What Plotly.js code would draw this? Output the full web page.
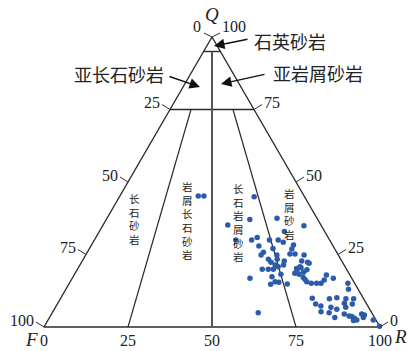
<!DOCTYPE html>
<html><head><meta charset="utf-8">
<script src="https://cdn.plot.ly/plotly-3.0.1.min.js"></script>
<style>html,body{margin:0;padding:0;background:#fff;overflow:hidden}</style>
</head><body><div id="chart" style="width:408px;height:351px"></div>
<script>
// ---- data: sample compositions in percent (Q = quartz, R = rock fragments, F = 100 - Q - R)
const sampleQ = [45.2,45.2,44.9,35.2,37.1,37.5,34.9,32.9,30.0,30.0,30.9,27.9,30.0,30.0,29.2,28.3,26.9,27.1,25.8,24.8,
  24.8,23.4,22.3,23.4,22.8,25.2,25.2,24.8,21.4,20.8,21.4,19.9,19.9,19.9,22.8,22.3,20.4,20.2,18.5,18.2,
  18.9,19.7,18.2,17.3,16.8,15.6,14.7,15.4,14.8,16.4,15.6,15.1,9.9,4.9,22.0,17.1,15.1,15.1,16.2,17.9,
  16.8,15.1,13.0,7.9,7.2,5.3,9.7,6.8,4.9,3.3,10.1,6.1,9.7,8.2,9.7,7.9,6.8,4.5,3.8,3.6,
  3.0,2.4,2.2,4.5,4.1,3.3,2.4,0.3,20.8,19.1];
const sampleR = [23.3,25.0,40.1,37.1,42.7,50.6,59.9,55.1,42.1,46.8,48.0,50.0,52.1,54.7,56.6,60.1,60.3,54.6,52.4,52.2,
  56.9,55.1,56.4,57.7,60.1,60.6,62.1,65.0,58.1,59.3,60.6,55.0,56.8,58.3,65.3,67.3,66.3,65.1,65.4,66.8,
  67.8,68.4,61.4,59.2,52.9,61.0,60.1,62.2,65.0,69.5,70.4,72.0,74.9,61.3,67.9,68.6,73.6,74.9,75.3,75.1,
  77.7,82.9,84.1,76.9,78.8,79.8,80.1,82.0,82.4,84.9,82.1,84.1,85.0,85.3,87.3,87.8,86.4,87.1,88.9,89.8,
  90.9,91.9,91.0,92.3,93.3,93.4,96.8,99.7,65.8,65.7];
// ---- classification boundaries
const quartzLimits = [95, 75];          // Q = 95 and Q = 75
const ratioLines = [25, 50, 75];        // R/(F+R) in percent
const tickValues = [0, 25, 50, 75, 100];
const vertexNames = ['Q', 'F', 'R'];
const fieldNames = ['石英砂岩', '亚长石砂岩', '亚岩屑砂岩', '长石砂岩', '岩屑长石砂岩', '长石岩屑砂岩', '岩屑砂岩'];

// ternary (Q,R) -> cartesian
const tx = (q, r) => r + q / 2;
const ty = (q, r) => q;
// pixel helpers for placing text (layout only)
const PX0 = 44, PXS = 3.36, PY0 = 327, PYS = 2.9;
const px = p => (p - PX0) / PXS, py = p => (PY0 - p) / PYS;

const dark = '#2b2b2b';
const traces = [];
// outline
traces.push({x:[tx(100,0),tx(0,0),tx(0,100),tx(100,0)], y:[ty(100,0),ty(0,0),ty(0,100),ty(100,0)],
  mode:'lines', line:{color:dark,width:1.4}, hoverinfo:'skip'});
// horizontal Q limits
const hx=[],hy=[];
quartzLimits.forEach(q=>{hx.push(tx(q,0),tx(q,100-q),null);hy.push(ty(q,0),ty(q,100-q),null);});
traces.push({x:hx,y:hy,mode:'lines',line:{color:dark,width:1.4},hoverinfo:'skip'});
// ratio lines
ratioLines.forEach(rt=>{
  const qTop = rt===50 ? quartzLimits[0] : quartzLimits[1];
  const q0=0, r0=rt, q1=qTop, r1=(100-qTop)*rt/100;
  traces.push({x:[tx(q0,r0),tx(q1,r1)],y:[ty(q0,r0),ty(q1,r1)],mode:'lines',
    line:{color: rt===50?'#555':dark, width: rt===50?2:1.2},hoverinfo:'skip'});
});
// samples
traces.push({x:sampleQ.map((q,i)=>tx(q,sampleR[i])), y:sampleQ.map((q,i)=>ty(q,sampleR[i])),
  mode:'markers', marker:{color:'#2d5bab',size:5.5}, hoverinfo:'skip'});

const numFont = {family:'Liberation Serif, serif', size:16, color:'#222'};
const ann=[], shapes=[];
function tick(x,y,dx,dy){shapes.push({type:'line',xref:'x',yref:'y',xsizemode:'pixel',ysizemode:'pixel',
  xanchor:x,yanchor:y,x0:0,y0:0,x1:dx,y1:dy,line:{color:dark,width:1}});}
function lab(text,x,y,xs,ys,xa,font){ann.push({text:String(text),x,y,xref:'x',yref:'y',xshift:xs,yshift:ys,
  xanchor:xa||'center',yanchor:'middle',showarrow:false,font:font||numFont});}
// left edge: F percentages
tickValues.forEach(f=>{
  const q=100-f, x=tx(q,0), y=ty(q,0);
  if(f===0){tick(x,y,-8,4);lab(f,x,y,-9,11,'right');}
  else {tick(x,y,-8,5);lab(f,x,y,-8,7,'right');}
});
// right edge: Q percentages
tickValues.forEach(q=>{
  const x=tx(q,100-q), y=ty(q,100-q);
  if(q===100){tick(x,y,8,4);lab(q,x,y,8,11,'left');}
  else {tick(x,y,8,5);lab(q,x,y,8,7,'left');}
});
// bottom: R percentages
tickValues.forEach(r=>{lab(r,tx(0,r),ty(0,r),0,-13,'center');});
// vertex names
const itFont={family:'Liberation Serif, serif',size:19,color:'#222'};
lab('<i>'+vertexNames[0]+'</i>',tx(100,0),ty(100,0),0,23,'center',itFont);
lab('<i>'+vertexNames[1]+'</i>',tx(0,0),ty(0,0),-13,-12,'center',itFont);
lab('<i>'+vertexNames[2]+'</i>',tx(0,100),ty(0,100),20,-9,'center',itFont);

// field names with arrows
const cjk={family:'Noto Sans CJK SC, sans-serif',size:18,color:'#222'};
const bigLabels=[[fieldNames[0],290,41,[249,39],[214,46]],[fieldNames[1],119,74,[168,76],[200,87]],[fieldNames[2],318,73,[266,74],[221,84]]];
bigLabels.forEach(([t,cx,cy,tail,tip])=>{
  ann.push({text:t,x:px(cx),y:py(cy),xref:'x',yref:'y',showarrow:false,font:cjk,xanchor:'center',yanchor:'middle'});
  ann.push({text:'',x:px(tip[0]),y:py(tip[1]),ax:px(tail[0]),ay:py(tail[1]),axref:'x',ayref:'y',xref:'x',yref:'y',
    showarrow:true,arrowhead:2,arrowsize:1.5,arrowwidth:1.4,arrowcolor:'#111'});
});
// vertical field names (one column each)
const cjkS={family:'Noto Sans CJK SC, sans-serif',size:10.5,color:'#222'};
const vLabels=[[fieldNames[3],134,219],[fieldNames[4],187,220],[fieldNames[5],238.5,222.5],[fieldNames[6],289.5,214]];
vLabels.forEach(([t,cx,cy])=>{
  ann.push({text:[...t].join('<br>'),x:px(cx),y:py(cy),xref:'x',yref:'y',showarrow:false,font:cjkS,
    xanchor:'center',yanchor:'middle',align:'center'});
});

const layout={width:408,height:351,margin:{l:0,r:0,t:0,b:0},paper_bgcolor:'#fff',plot_bgcolor:'#fff',
  showlegend:false,hovermode:false,
  xaxis:{range:[px(0),px(408)],visible:false,fixedrange:true},
  yaxis:{range:[py(351),py(0)],visible:false,fixedrange:true},
  annotations:ann,shapes:shapes};
Plotly.newPlot('chart',traces,layout,{staticPlot:true,displayModeBar:false});
</script></body></html>
